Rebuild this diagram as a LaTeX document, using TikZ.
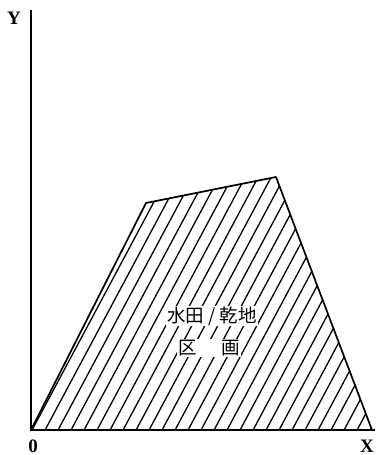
\documentclass[tikz,border=0pt]{standalone}
\usepackage{fontspec}
\setmainfont{Liberation Serif}
\newfontfamily\cjk{Noto Sans CJK JP}
\begin{document}
\begin{tikzpicture}[x=1pt,y=-1pt,
  axisline/.style={line width=1.5pt},
  edge/.style={line width=1.7pt, line join=round},
  hatch/.style={line width=1.3pt},
  axlabel/.style={font=\fontsize{19}{19}\selectfont\bfseries, inner sep=0pt},
  cjklabel/.style={font=\cjk\fontsize{18.5}{18.5}\selectfont, fill=white, inner sep=1pt}]
\useasboundingbox (0,0) rectangle (375,455);
\coordinate (O) at (31,430);
\coordinate (Ytop) at (31,10);
\coordinate (Xend) at (375,430);
\coordinate (A) at (146,203);
\coordinate (B) at (276,177);
\coordinate (C) at (372,430);
\begin{scope}
  \clip (O) -- (A) -- (B) -- (C) -- cycle;
  \foreach \i in {-10,...,28} {
    \draw[hatch] (31+\i*13,432) -- ++(140,-262);
  }
\end{scope}
\draw[edge] (O) -- (A) -- (B) -- (C);
\draw[axisline] (Ytop) -- (O) -- (Xend);
\node[axlabel] (ylab) at (14,18) {Y};
\node[axlabel] (olab) at (33,446) {0};
\node[axlabel] (xlab) at (367,446) {X};
\node[cjklabel] (t1) at (212,316) {水田 / 乾地};
\node[cjklabel] (t2) at (209,348) {区\hspace{1.3em}画};
\end{tikzpicture}
\end{document}
